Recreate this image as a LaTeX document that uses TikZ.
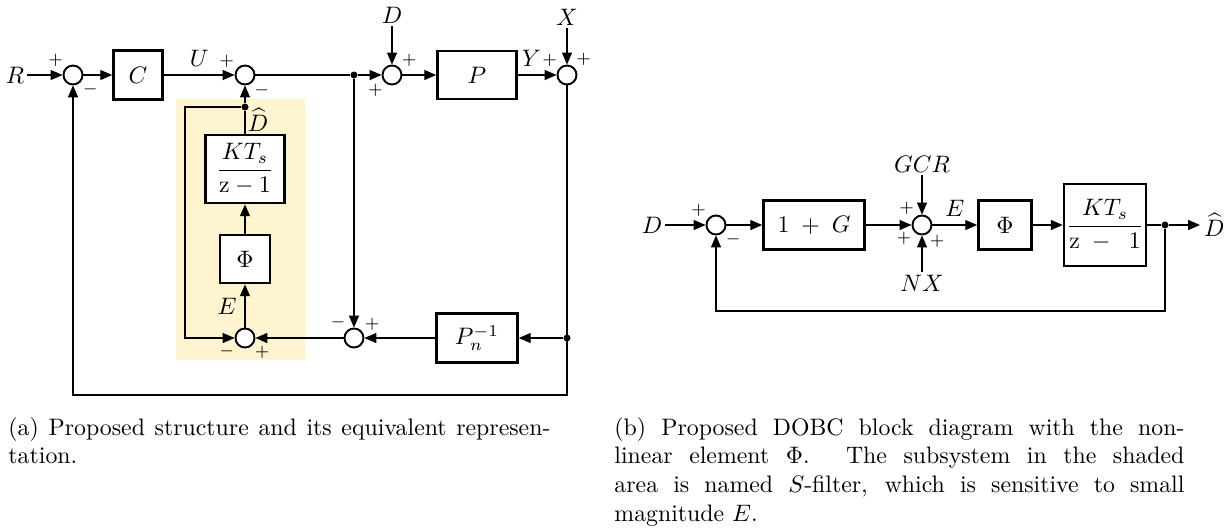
\documentclass[tikz,border=0pt]{standalone}
\usepackage{amsmath,amssymb}
\usepackage{tikz}
\usetikzlibrary{arrows.meta}
\definecolor{sfyellow}{RGB}{255,244,208}
\newlength\pxl
\setlength\pxl{0.42pt}

\begin{document}
\begin{tikzpicture}[
    x=\pxl, y=-\pxl,
    blk/.style={draw, line width=1.1pt, fill=white, inner sep=0pt, align=center},
    summer/.style={draw, circle, line width=0.8pt, fill=white, minimum size=19\pxl, inner sep=0pt},
    sgn/.style={font=\scriptsize, inner sep=0.6pt},
    jdot/.style={circle, fill, inner sep=0pt, minimum size=7\pxl},
    lbl/.style={inner sep=1pt},
    capt/.style={inner sep=0pt, align=justify, anchor=north west},
    arr/.style={-{Triangle[length=5pt,width=4.2pt]}, line width=0.5pt},
    ln/.style={line width=0.5pt}
]
\useasboundingbox (0,0) rectangle (1228,529);

% (a) shaded S-filter area
\fill[sfyellow] (176,99) rectangle (305,360);

% (a) forward path
\node[lbl] (R) at (15,75) {$R$};
\node[summer, label={[sgn]140:$+$}, label={[sgn]-40:$-$}] (s1) at (73,75) {};
\node[blk, minimum width=49\pxl, minimum height=49\pxl] (C) at (138,75) {$C$};
\node[summer, label={[sgn]150:$+$}, label={[sgn]-45:$-$}] (s2) at (245,75) {};
\node[jdot] (j1) at (354,75) {};
\node[summer, label={[sgn]40:$+$}, label={[sgn]225:$+$}] (s3) at (392,75) {};
\node[lbl] (D) at (392,15) {$D$};
\node[blk, minimum width=79\pxl, minimum height=48\pxl] (P) at (477,75) {$P$};
\node[summer, label={[sgn]140:$+$}, label={[sgn]45:$+$}] (s4) at (567,75) {};
\node[lbl] (X) at (567,17) {$X$};

% (a) observer loop
\node[jdot] (j2) at (245,107) {};
\coordinate (lc) at (185,107);
\node[blk, minimum width=79\pxl, minimum height=68\pxl] (K1) at (245,169) {$\dfrac{KT_s}{\mathrm{z}-1}$};
\node[blk, minimum width=50\pxl, minimum height=48\pxl] (F1) at (245,259) {$\Phi$};
\node[summer, label={[sgn]212:$-$}, label={[sgn]-40:$+$}] (s5) at (245,338) {};
\node[summer, label={[sgn]130:$-$}, label={[sgn]30:$+$}] (s6) at (354,338) {};
\node[blk, minimum width=81\pxl, minimum height=49\pxl] (Pn) at (477,338) {$P_n^{-1}$};
\node[jdot] (j3) at (567,338) {};
\coordinate (fb) at (567,395);

\draw[arr] (R) -- (s1);
\draw[arr] (s1) -- (C);
\draw[arr] (C) -- (s2) node[midway, above] {$U$};
\draw[ln] (s2) -- (j1);
\draw[arr] (j1) -- (s3);
\draw[arr] (D) -- (s3);
\draw[arr] (s3) -- (P);
\draw[arr] (P) -- (s4) node[pos=0.35, above] {$Y$};
\draw[arr] (X) -- (s4);
\draw[arr] (s4) -- (fb) -| (s1);
\draw[arr] (j3) -- (Pn);
\draw[arr] (Pn) -- (s6);
\draw[arr] (j1) -- (s6);
\draw[arr] (s6) -- (s5);
\draw[arr] (s5) -- (F1) node[midway, left] {$E$};
\draw[arr] (F1) -- (K1);
\draw[ln] (K1) -- (j2) node[pos=0.6, right, inner sep=1pt] {$\widehat{D}$};
\draw[arr] (j2) -- (s2);
\draw[arr] (j2) -- (lc) |- (s5);

% (b) DOBC block diagram
\node[lbl] (D2) at (652,225) {$D$};
\node[summer, label={[sgn]142:$+$}, label={[sgn]-40:$-$}] (s7) at (716,225) {};
\node[blk, minimum width=101\pxl, minimum height=49\pxl] (G) at (814,225) {$1\;+\;G$};
\node[summer, label={[sgn]126:$+$}, label={[sgn]213:$+$}, label={[sgn]-55:$+$}] (s8) at (922,225) {};
\node[lbl] (GCR) at (922,164) {$GCR$};
\node[lbl] (NX) at (922,283) {$NX$};
\node[blk, minimum width=53\pxl, minimum height=49\pxl] (F2) at (1005,225) {$\Phi$};
\node[blk, minimum width=82\pxl, minimum height=82\pxl] (K2) at (1105,225) {$\dfrac{\;KT_s\;}{\mathrm{z}\;-\;\;1}$};
\node[jdot] (j4) at (1165,225) {};
\node[lbl, anchor=west, inner sep=1.5pt] (Dh) at (1200,225) {$\widehat{D}$};
\coordinate (fb2) at (1165,311);

\draw[arr] (D2) -- (s7);
\draw[arr] (s7) -- (G);
\draw[arr] (G) -- (s8);
\draw[arr] (GCR) -- (s8);
\draw[arr] (NX) -- (s8);
\draw[arr] (s8) -- (F2) node[midway, above] {$E$};
\draw[arr] (F2) -- (K2);
\draw[ln] (K2) -- (j4);
\draw[arr] (j4) -- (Dh);
\draw[arr] (j4) -- (fb2) -| (s7);

% captions
\node[capt, text width=542\pxl] (capa) at (8,417) {(a) Proposed structure and its equivalent represen-\linebreak tation.};
\node[capt, text width=570\pxl] (capb) at (614,417) {(b) Proposed DOBC block diagram with the non-\linebreak linear element $\Phi$. The subsystem in the shaded\linebreak area is named $S$-filter, which is sensitive to small\linebreak magnitude $E$.};
\end{tikzpicture}
\end{document}
